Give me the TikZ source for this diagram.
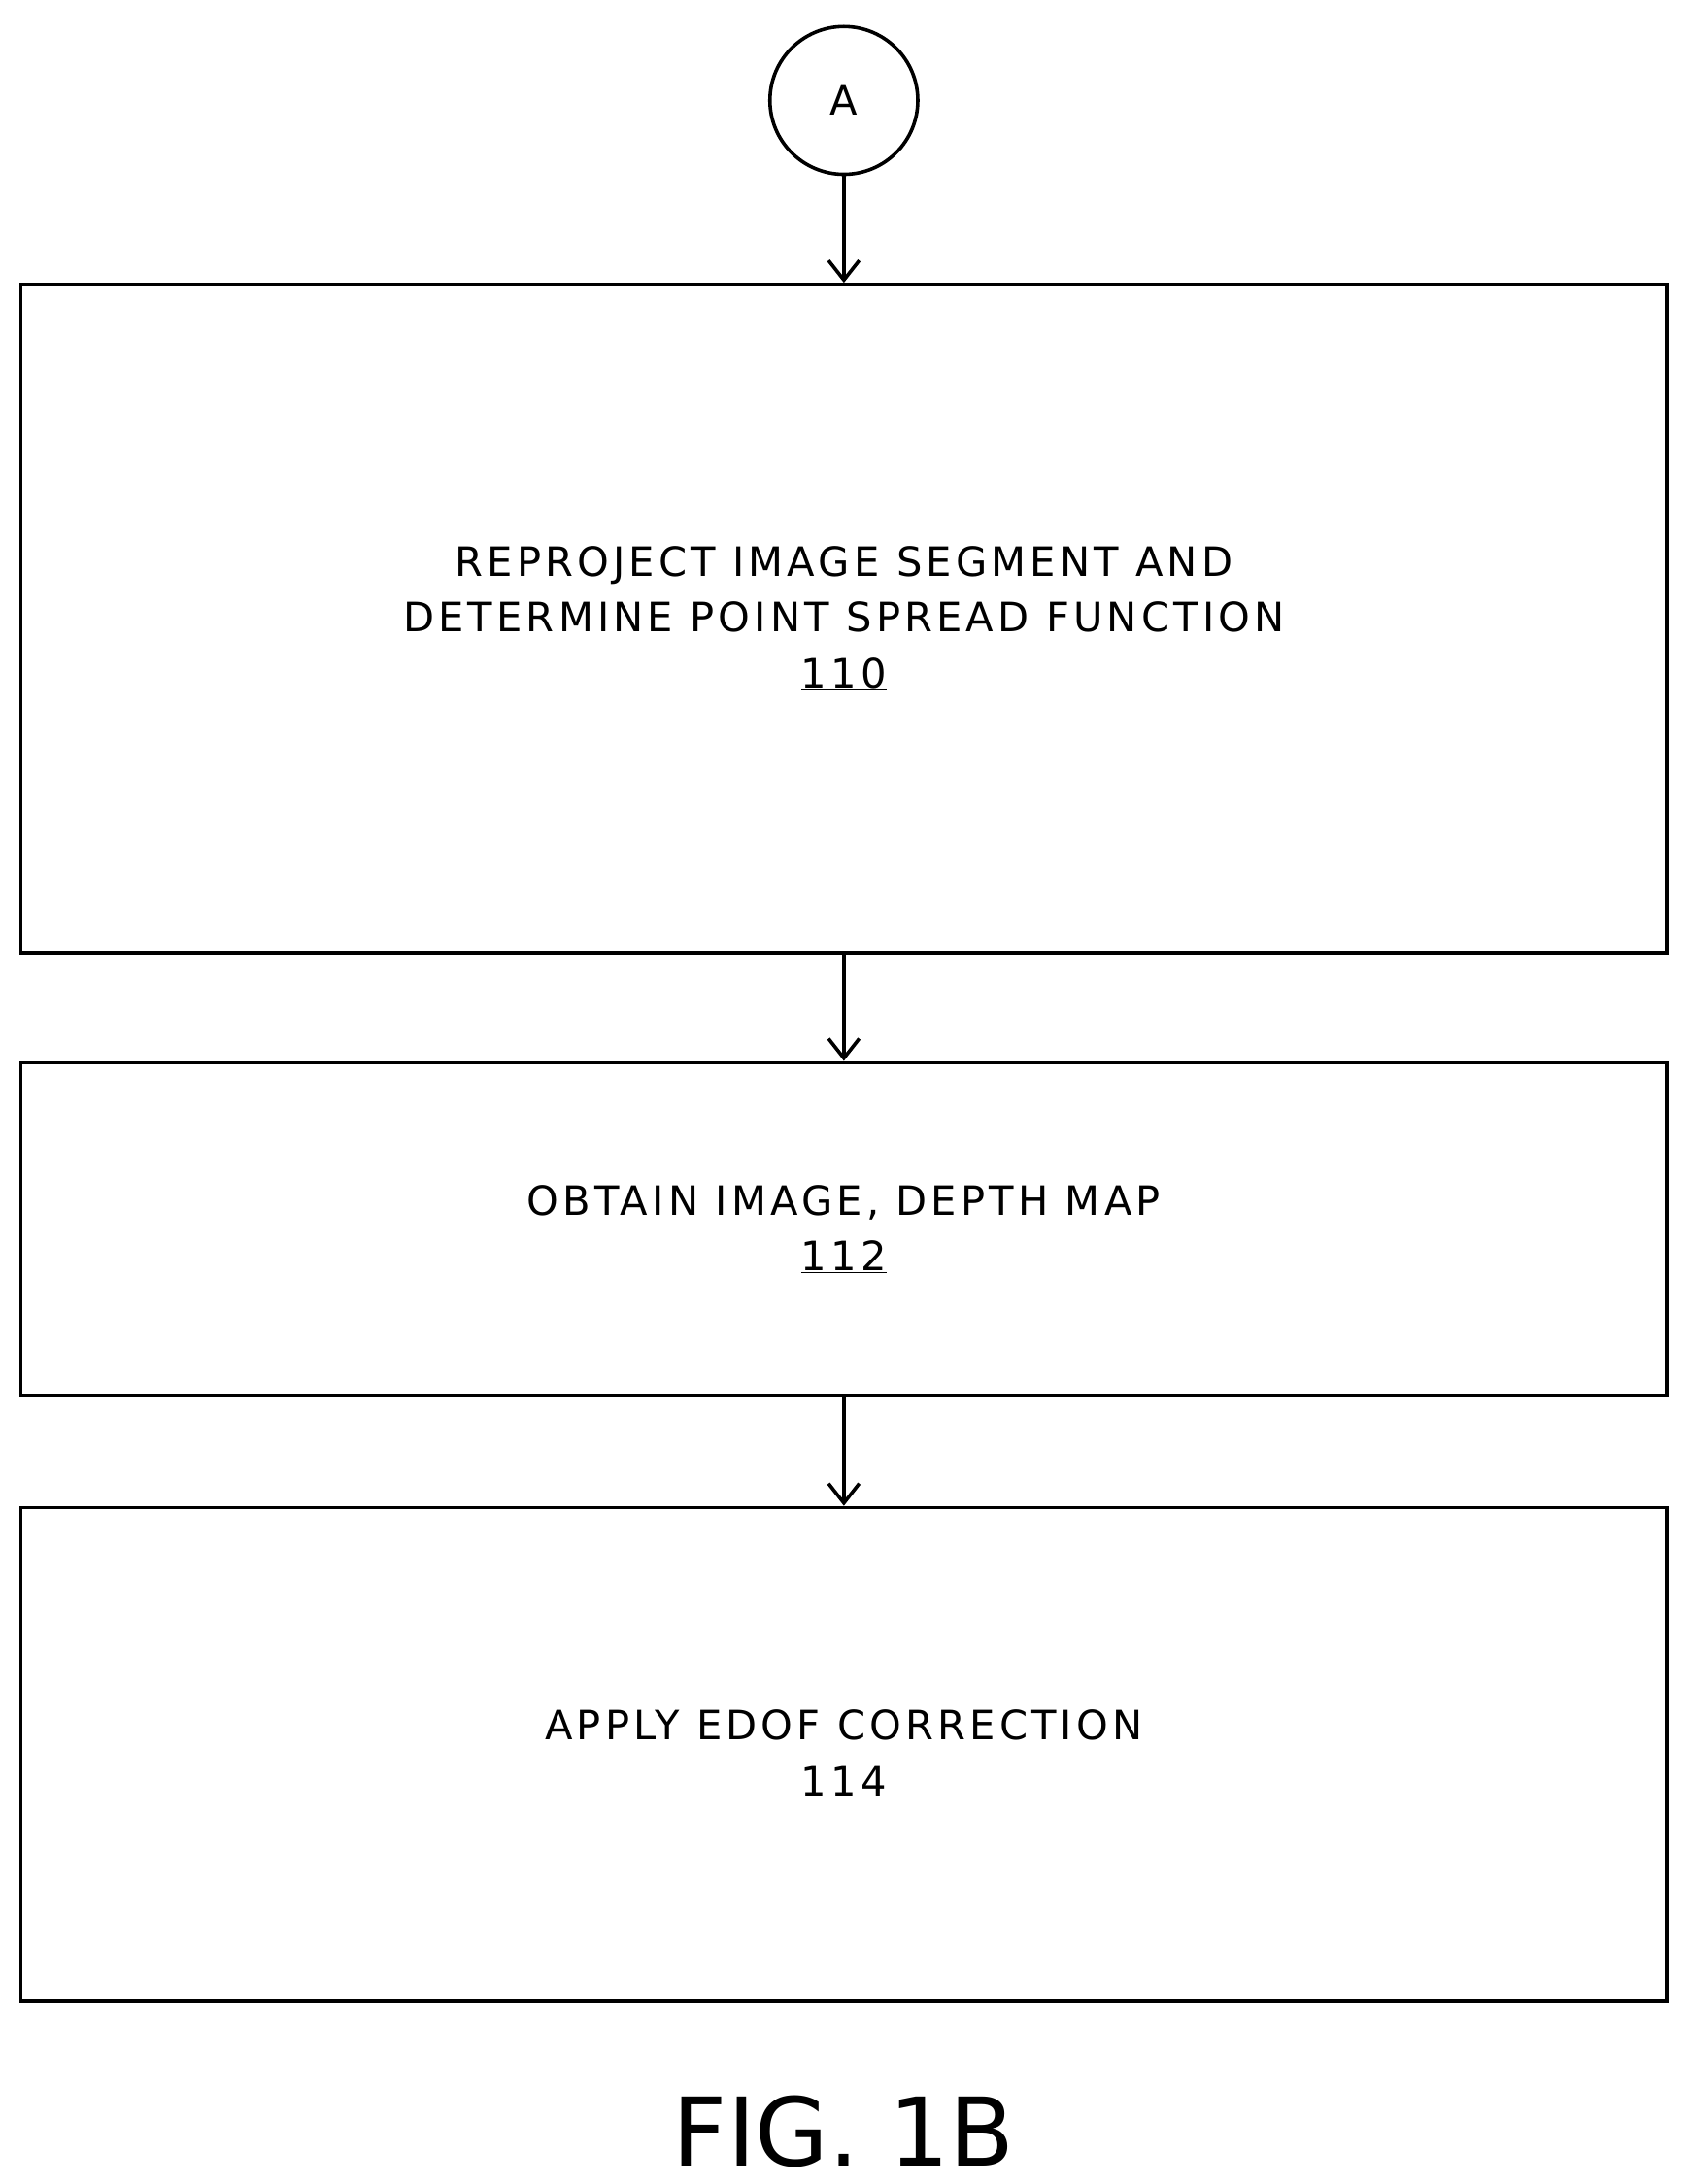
\documentclass[tikz,border=0pt]{standalone}
\usepackage{fontspec}
\setmainfont{DejaVu Sans}
\newfontfamily\boxfont[LetterSpace=10]{DejaVu Sans}
\usetikzlibrary{arrows.meta}
\tikzset{stepbox/.style = {draw, line width=2.5pt, minimum width=1180pt, align=center, font=\boxfont\fontsize{29}{40}\selectfont},
         flow/.style = {-{Straight Barb[length=14pt,width=22pt,line width=2.5pt]}, line width=2.5pt}}

\begin{document}
\begin{tikzpicture}[x=1pt, y=-1pt]
    \useasboundingbox (0,0) rectangle (1210,1566);
  	\node [draw, circle, line width=2.5pt, minimum size=106pt, font=\fontsize{29}{34}\selectfont] (conA) at (605,72) {A};
  	\node [stepbox, minimum height=479pt] (reproject) at (605,443.5) {REPROJECT IMAGE SEGMENT AND\\DETERMINE POINT SPREAD FUNCTION\\\underline{110}};
  	\node [stepbox, minimum height=239pt] (obtain) at (605,881.5) {OBTAIN IMAGE, DEPTH MAP\\\underline{112}};
  	\node [stepbox, minimum height=354pt] (edof) at (605,1258) {APPLY EDOF CORRECTION\\\underline{114}};
    \draw [flow] (conA) -- (reproject);
    \draw [flow] (reproject) -- (obtain);
    \draw [flow] (obtain) -- (edof);
    \node [font=\fontsize{68}{72}\selectfont] (caption) at (605,1528) {FIG. 1B};
\end{tikzpicture}
\end{document}
